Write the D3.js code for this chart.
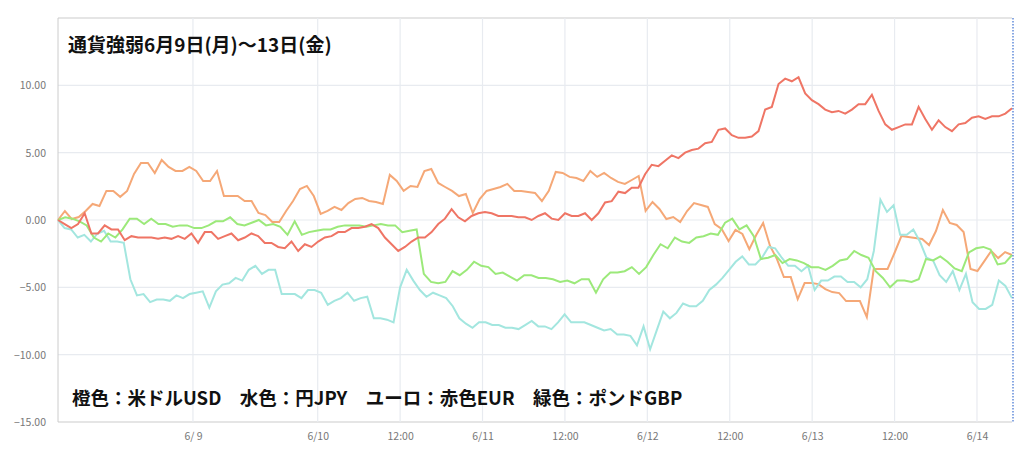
<!DOCTYPE html>
<html>
<head>
<meta charset="utf-8">
<script src="https://cdn.jsdelivr.net/npm/d3@7"></script>
<style>
  body { margin: 0; background: #fff; }
  text { font-family: "Noto Sans CJK JP", "Noto Sans", sans-serif; }
</style>
</head>
<body>
<svg id="chart" width="1024" height="456"></svg>
<script>
const usd = [0,0.67,0.07,0.22,0.67,1.19,1.04,2.16,2.16,1.72,2.16,3.42,4.24,4.24,3.49,4.46,3.94,3.64,3.64,3.94,3.64,2.9,2.9,3.64,1.78,1.78,1.78,1.41,1.41,0.52,0.37,-0.15,-0.15,0.67,1.41,2.3,2.53,1.78,0.45,0.67,0.97,0.74,1.26,1.56,1.64,1.41,1.34,1.19,3.35,2.9,2.16,2.53,2.45,3.64,3.79,2.75,2.45,2.16,1.78,1.93,0.52,1.56,2.16,2.3,2.45,2.68,2.16,2.16,2.08,2.01,1.41,2.16,3.57,3.49,3.2,3.12,2.9,3.64,3.2,3.49,3.12,2.83,2.68,2.97,3.27,0.67,1.34,0.82,0.07,0.22,-0.15,0.67,1.26,1.12,0.97,-0.3,-0.67,-1.56,-0.74,-1.04,-2.16,-1.12,-0.22,-1.93,-2.9,-4.24,-4.24,-5.87,-4.68,-4.68,-4.76,-5.13,-5.35,-5.43,-6.02,-6.02,-6.02,-7.21,-3.64,-3.64,-3.64,-2.45,-1.19,-1.26,-1.34,-1.41,-1.86,-0.82,0.74,-0.22,-0.37,-0.89,-3.64,-3.79,-3.05,-2.3,-2.83,-2.38,-2.6];
const eur = [0,-0.3,-0.6,-0.3,0.5,-1.0,-1.0,-0.4,-0.7,-0.7,-1.5,-1.2,-1.3,-1.3,-1.3,-1.4,-1.3,-1.4,-1.2,-1.4,-1.0,-1.7,-0.9,-0.9,-1.4,-1.2,-1.0,-1.5,-1.3,-1.0,-1.2,-1.7,-1.7,-2.0,-2.1,-1.6,-2.3,-1.8,-2.0,-1.6,-1.3,-1.2,-0.9,-0.9,-0.6,-0.6,-0.5,-0.3,-0.6,-1.3,-1.8,-2.3,-2.0,-1.6,-1.3,-1.3,-0.9,-0.3,0.1,0.8,0.2,-0.1,0.3,0.5,0.6,0.5,0.3,0.3,0.3,0.2,0.2,0.0,0.3,0.5,0.1,0.0,0.5,0.3,0.3,0.5,0.0,0.5,1.3,1.4,2.1,2.0,2.4,2.4,3.4,4.1,4.0,4.4,4.8,4.6,5.0,5.2,5.3,5.7,5.8,6.7,6.8,6.3,6.1,6.1,6.2,6.6,8.2,8.4,10.1,10.5,10.3,10.6,9.4,8.9,8.6,8.2,8.0,8.1,7.9,8.2,8.6,8.6,9.3,8.1,7.1,6.7,6.9,7.1,7.1,8.4,7.5,6.7,7.4,6.9,6.6,7.1,7.2,7.6,7.7,7.5,7.7,7.7,7.9,8.3];
const gbp = [0,0.2,0.1,-0.1,-0.4,-1.3,-1.6,-1.0,-1.3,-0.7,0.1,0.1,-0.3,0.1,-0.3,-0.3,-0.5,-0.4,-0.4,-0.6,-0.6,-0.4,-0.1,-0.1,0.2,-0.3,-0.4,-0.2,0.0,-0.4,-0.3,-0.5,-1.1,-0.1,-1.1,-0.9,-0.8,-0.7,-0.7,-0.5,-0.4,-0.4,-0.4,-0.5,-0.4,-0.3,-0.4,-0.4,-0.9,-0.8,-0.7,-4.0,-4.6,-4.7,-4.6,-3.8,-4.1,-3.7,-3.1,-3.4,-3.5,-4.0,-3.9,-4.2,-4.5,-4.1,-4.1,-4.3,-4.3,-4.4,-4.6,-4.5,-4.7,-4.4,-4.4,-5.4,-4.4,-3.9,-3.9,-3.8,-3.5,-4.0,-3.5,-2.6,-1.8,-2.1,-1.3,-1.6,-1.7,-1.3,-1.2,-1.0,-1.1,-0.2,0.1,-0.7,-0.4,-1.2,-2.9,-2.8,-2.6,-3.2,-2.9,-3.0,-3.2,-3.5,-3.5,-3.7,-3.4,-3.0,-2.9,-2.3,-2.6,-2.8,-3.8,-4.3,-5.0,-4.5,-4.5,-4.6,-4.4,-2.9,-3.0,-2.7,-3.1,-3.6,-3.8,-2.4,-2.1,-2.0,-2.2,-3.3,-3.2,-2.6];
const jpy = [0,-0.6,-0.7,-1.3,-1.1,-1.6,-1.0,-0.8,-1.6,-1.6,-1.7,-4.4,-5.6,-5.5,-6.1,-5.9,-5.9,-6.0,-5.6,-5.8,-5.5,-5.4,-5.3,-6.5,-5.3,-4.8,-4.7,-4.3,-4.5,-3.7,-3.4,-4.0,-3.7,-3.7,-5.5,-5.5,-5.5,-5.8,-5.2,-5.2,-5.4,-6.3,-6.0,-5.8,-5.4,-6.0,-5.8,-5.7,-7.3,-7.3,-7.4,-7.6,-5.0,-3.7,-4.5,-5.2,-5.7,-5.4,-5.6,-5.8,-6.4,-7.3,-7.7,-8.0,-7.6,-7.6,-7.8,-7.8,-8.0,-8.0,-8.1,-7.8,-7.5,-7.9,-7.9,-8.1,-7.6,-7.0,-7.6,-7.6,-7.6,-7.8,-8.0,-8.2,-8.1,-8.5,-8.5,-8.6,-9.3,-7.9,-9.6,-8.2,-6.8,-7.3,-6.9,-6.2,-6.4,-6.4,-6.0,-5.2,-4.8,-4.3,-3.7,-3.1,-2.7,-3.3,-3.3,-2.8,-2.0,-2.1,-2.8,-3.4,-3.4,-3.8,-3.4,-5.2,-4.5,-4.5,-4.2,-4.2,-4.6,-4.6,-5.0,-4.4,-2.3,1.5,0.6,1.1,-1.1,-1.1,-0.7,-1.6,-2.8,-3.0,-4.1,-4.6,-3.8,-5.2,-4.0,-6.1,-6.6,-6.6,-6.3,-4.5,-4.9,-5.8];

const yTicks = [10, 5, 0, -5, -10, -15];
const xTickLabels = ['6/ 9', '6/10', '12:00', '6/11', '12:00', '6/12', '12:00', '6/13', '12:00', '6/14'];
const xTickTimes = [
  new Date(2025, 5, 9, 5, 50), new Date(2025, 5, 10), new Date(2025, 5, 10, 12), new Date(2025, 5, 11),
  new Date(2025, 5, 11, 12), new Date(2025, 5, 12), new Date(2025, 5, 12, 12), new Date(2025, 5, 13),
  new Date(2025, 5, 13, 12), new Date(2025, 5, 14)
];
const seriesList = [
  { name: 'USD', values: usd, color: '#f5a877' },
  { name: 'JPY', values: jpy, color: '#a3e6df' },
  { name: 'GBP', values: gbp, color: '#9ce97a' },
  { name: 'EUR', values: eur, color: '#ef7565' }
];

const margin = { left: 58, right: 12, top: 18, bottom: 34 };
const svg = d3.select('#chart');
const width = 1024 - margin.left - margin.right;
const height = 456 - margin.top - margin.bottom;

const start = new Date(2025, 5, 8, 10, 11);
const end = new Date(2025, 5, 14, 5, 6);

const getX = d3.scaleTime().domain([start, end]).range([0, width]);
const getY = d3.scaleLinear().domain([-15, 15]).range([height, 0]);

const g = svg.append('g').attr('transform', `translate(${margin.left},${margin.top})`);

// grid
g.selectAll('.hgrid').data(yTicks.concat([15])).join('line')
  .attr('x1', 0).attr('x2', width)
  .attr('y1', d => getY(d)).attr('y2', d => getY(d))
  .attr('stroke', d => d === 15 || d === -15 ? '#ccc' : '#e8ebf0').attr('stroke-width', 1.2);
g.selectAll('.vgrid').data(xTickTimes).join('line')
  .attr('x1', d => getX(d)).attr('x2', d => getX(d))
  .attr('y1', 0).attr('y2', height)
  .attr('stroke', '#e8ebf0').attr('stroke-width', 1.2);
g.append('line').attr('x1', 0).attr('x2', 0).attr('y1', 0).attr('y2', height).attr('stroke', '#ccc');

// axes
const yAxis = d3.axisLeft(getY).tickValues(yTicks).tickSize(0).tickPadding(12).tickFormat(d3.format('.2f'));
g.append('g').call(yAxis).call(a => a.select('.domain').remove())
  .selectAll('text').attr('fill', '#777').attr('font-size', 10.5).attr('font-family', '"Open Sans", sans-serif');

const xAxis = d3.axisBottom(getX).tickValues(xTickTimes).tickSize(0).tickPadding(11)
  .tickFormat((d, i) => xTickLabels[i]);
g.append('g').attr('transform', `translate(0,${height})`).call(xAxis)
  .call(a => a.select('.domain').remove())
  .selectAll('text').attr('fill', '#777').attr('font-size', 10.5).attr('font-family', '"Open Sans", sans-serif');

// lines
const span = end - start;
seriesList.forEach(s => {
  const n = s.values.length;
  const pts = s.values.map((v, i) => ({ date: new Date(start.getTime() + span * i / (n - 1)), value: v }));
  const line = d3.line().x(d => getX(d.date)).y(d => getY(d.value));
  g.append('path').attr('d', line(pts)).attr('fill', 'none')
    .attr('stroke', s.color).attr('stroke-width', 2);
});

// right dotted edge
g.append('line').attr('x1', width + 1).attr('x2', width + 1).attr('y1', 0).attr('y2', height)
  .attr('stroke', '#3b6fd1').attr('stroke-width', 1.2).attr('stroke-dasharray', '1.5,1.5');

// texts
svg.append('text').attr('x', 68).attr('y', 52).attr('font-size', 19).attr('font-weight', 'bold')
  .attr('fill', '#111').text('通貨強弱6月9日(月)〜13日(金)');
svg.append('text').attr('x', 72).attr('y', 405).attr('font-size', 18.5).attr('font-weight', 'bold')
  .attr('fill', '#111').attr('xml:space', 'preserve')
  .text('橙色：米ドルUSD　水色：円JPY　ユーロ：赤色EUR　緑色：ポンドGBP');
</script>
</body>
</html>
